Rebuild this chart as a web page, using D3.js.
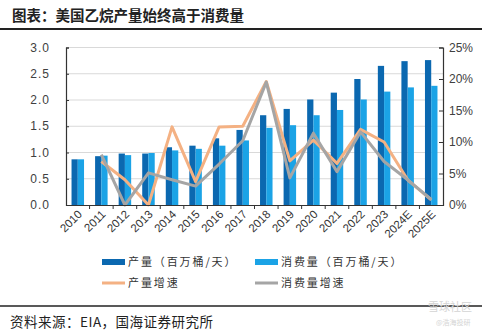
<!DOCTYPE html>
<html>
<head>
<meta charset="utf-8">
<script src="https://cdn.jsdelivr.net/npm/d3@7"></script>
<style>
  body { margin: 0; background: #fff; }
  text { font-family: "Liberation Sans", Arial, sans-serif; }
  .cn { font-family: "Noto Sans CJK SC", sans-serif; }
</style>
</head>
<body>
<script>
// data
var years = ["2010","2011","2012","2013","2014","2015","2016","2017","2018","2019","2020","2021","2022","2023","2024E","2025E"];
var production = [0.87,0.93,0.98,0.98,1.10,1.13,1.27,1.43,1.71,1.83,2.01,2.14,2.40,2.65,2.74,2.76];
var consumption = [0.87,0.94,0.95,0.99,1.04,1.07,1.13,1.23,1.47,1.52,1.71,1.81,2.01,2.16,2.24,2.27];
var prodGrowth = [null,6.9,4.0,0.0,12.4,3.7,12.4,12.5,19.6,7.0,10.3,6.6,12.0,10.0,4.0,0.8];
var consGrowth = [null,8.0,0.0,5.1,4.0,3.0,6.5,10.2,19.5,4.3,11.4,5.3,11.6,6.9,4.0,0.9];
var leftTicks = [0,0.5,1,1.5,2,2.5,3];
var rightTicks = [0,5,10,15,20,25];

var W = 482, H = 332;
var plotL = 66, plotR = 443, plotT = 47.5, plotB = 205;

var svg = d3.select("body").append("svg")
    .attr("width", W).attr("height", H);

// title + rules
svg.append("text").attr("class", "cn")
    .attr("x", 12).attr("y", 21)
    .attr("font-size", 14.5).attr("font-weight", "bold").attr("fill", "#222")
    .text("图表：美国乙烷产量始终高于消费量");
svg.append("line").attr("x1", 0).attr("x2", W).attr("y1", 29).attr("y2", 29)
    .attr("stroke", "#222").attr("stroke-width", 2);
svg.append("line").attr("x1", 0).attr("x2", W).attr("y1", 306).attr("y2", 306)
    .attr("stroke", "#222").attr("stroke-width", 1.5);
svg.append("text").attr("class", "cn")
    .attr("x", 10).attr("y", 327)
    .attr("font-size", 13.5).attr("letter-spacing", 0.5).attr("fill", "#222")
    .text("资料来源：EIA，国海证券研究所");

// watermark
svg.append("text").attr("class", "cn").attr("x", 428).attr("y", 311)
    .attr("font-size", 11).attr("fill", "#d4d4d4").text("雪球社区");
svg.append("text").attr("class", "cn").attr("x", 436).attr("y", 325)
    .attr("font-size", 7).attr("fill", "#d4d4d4").text("@浩海投研");

// scales
var x = d3.scaleBand().domain(years).range([plotL, plotR]);
var yL = d3.scaleLinear().domain([0, 3]).range([plotB, plotT]);
var yR = d3.scaleLinear().domain([0, 25]).range([plotB, plotT]);
var inner = d3.scaleBand().domain(["p","c"]).range([0, 12.5]);
var off = (x.bandwidth() - 12.5) / 2;

// gridlines
svg.append("g").selectAll("line")
    .data(leftTicks.slice(1))
    .enter().append("line")
    .attr("x1", plotL).attr("x2", plotR)
    .attr("y1", function(d) { return yL(d); })
    .attr("y2", function(d) { return yL(d); })
    .attr("stroke", "#d9d9d9").attr("stroke-width", 1);

// bars
var bars = svg.append("g");
bars.selectAll(".p").data(production).enter().append("rect")
    .attr("class", "p")
    .attr("x", function(d, i) { return x(years[i]) + off + inner("p"); })
    .attr("y", function(d) { return yL(d); })
    .attr("width", inner.bandwidth())
    .attr("height", function(d) { return plotB - yL(d); })
    .attr("fill", "#0b68b0");
bars.selectAll(".c").data(consumption).enter().append("rect")
    .attr("class", "c")
    .attr("x", function(d, i) { return x(years[i]) + off + inner("c"); })
    .attr("y", function(d) { return yL(d); })
    .attr("width", inner.bandwidth())
    .attr("height", function(d) { return plotB - yL(d); })
    .attr("fill", "#1ba3e6");

// growth lines
var line = d3.line()
    .defined(function(d) { return d != null; })
    .x(function(d, i) { return x(years[i]) + x.bandwidth() / 2; })
    .y(function(d) { return yR(d); });
svg.append("path").datum(prodGrowth).attr("d", line)
    .attr("fill", "none").attr("stroke", "#f4b183").attr("stroke-width", 3)
    .attr("stroke-linejoin", "round");
svg.append("path").datum(consGrowth).attr("d", line)
    .attr("fill", "none").attr("stroke", "#a5a5a5").attr("stroke-width", 3)
    .attr("stroke-linejoin", "round");

// axes
var axL = svg.append("g").attr("transform", "translate(" + plotL + ",0)")
    .call(d3.axisRight(yL).tickValues(leftTicks).tickSize(3).tickFormat(""));
var axR = svg.append("g").attr("transform", "translate(" + plotR + ",0)")
    .call(d3.axisLeft(yR).tickValues(rightTicks).tickSize(4).tickFormat(""));
var axB = svg.append("g").attr("transform", "translate(0," + plotB + ")")
    .call(d3.axisBottom(x).tickSize(0).tickFormat(""));
[axL, axR, axB].forEach(function(a) {
    a.select(".domain").attr("stroke", "#333").attr("stroke-width", 1.2);
    a.selectAll("line").attr("stroke", "#333");
});
// category boundary ticks below axis
svg.append("g").selectAll("line")
    .data(years.slice(1))
    .enter().append("line")
    .attr("x1", function(d) { return x(d); }).attr("x2", function(d) { return x(d); })
    .attr("y1", plotB).attr("y2", plotB + 4)
    .attr("stroke", "#333");

// tick labels
svg.append("g").selectAll("text")
    .data(leftTicks).enter().append("text")
    .attr("x", 50).attr("y", function(d) { return yL(d) + 4; })
    .attr("text-anchor", "end").attr("font-size", 12).attr("fill", "#404040")
    .attr("letter-spacing", 1)
    .text(function(d) { return d.toFixed(1); });
svg.append("g").selectAll("text")
    .data(rightTicks).enter().append("text")
    .attr("x", 449).attr("y", function(d) { return yR(d) + 4; })
    .attr("font-size", 12).attr("fill", "#404040")
    .text(function(d) { return d + "%"; });
svg.append("g").selectAll("text")
    .data(years).enter().append("text")
    .attr("transform", function(d) {
        return "translate(" + (x(d) + x.bandwidth() / 2 + 5) + "," + 215 + ") rotate(-45)";
    })
    .attr("text-anchor", "end").attr("font-size", 11.5).attr("fill", "#333")
    .text(function(d) { return d; });

// legend
var legend = [
    {name: "产量（百万桶/天）", color: "#0b68b0", type: "bar", lx: 102, ly: 262},
    {name: "消费量（百万桶/天）", color: "#1ba3e6", type: "bar", lx: 255, ly: 262},
    {name: "产量增速", color: "#f4b183", type: "line", lx: 102, ly: 283},
    {name: "消费量增速", color: "#a5a5a5", type: "line", lx: 255, ly: 283}
];
var lg = svg.append("g").selectAll("g").data(legend).enter().append("g");
lg.append("rect")
    .attr("x", function(d) { return d.lx; })
    .attr("y", function(d) { return d.type == "bar" ? d.ly - 3 : d.ly - 1.5; })
    .attr("width", 23)
    .attr("height", function(d) { return d.type == "bar" ? 6 : 3; })
    .attr("fill", function(d) { return d.color; });
lg.append("text").attr("class", "cn")
    .attr("x", function(d) { return d.lx + 26; })
    .attr("y", function(d) { return d.ly + 4; })
    .attr("font-size", 11).attr("letter-spacing", 1.9).attr("fill", "#333")
    .text(function(d) { return d.name; });
</script>
</body>
</html>
